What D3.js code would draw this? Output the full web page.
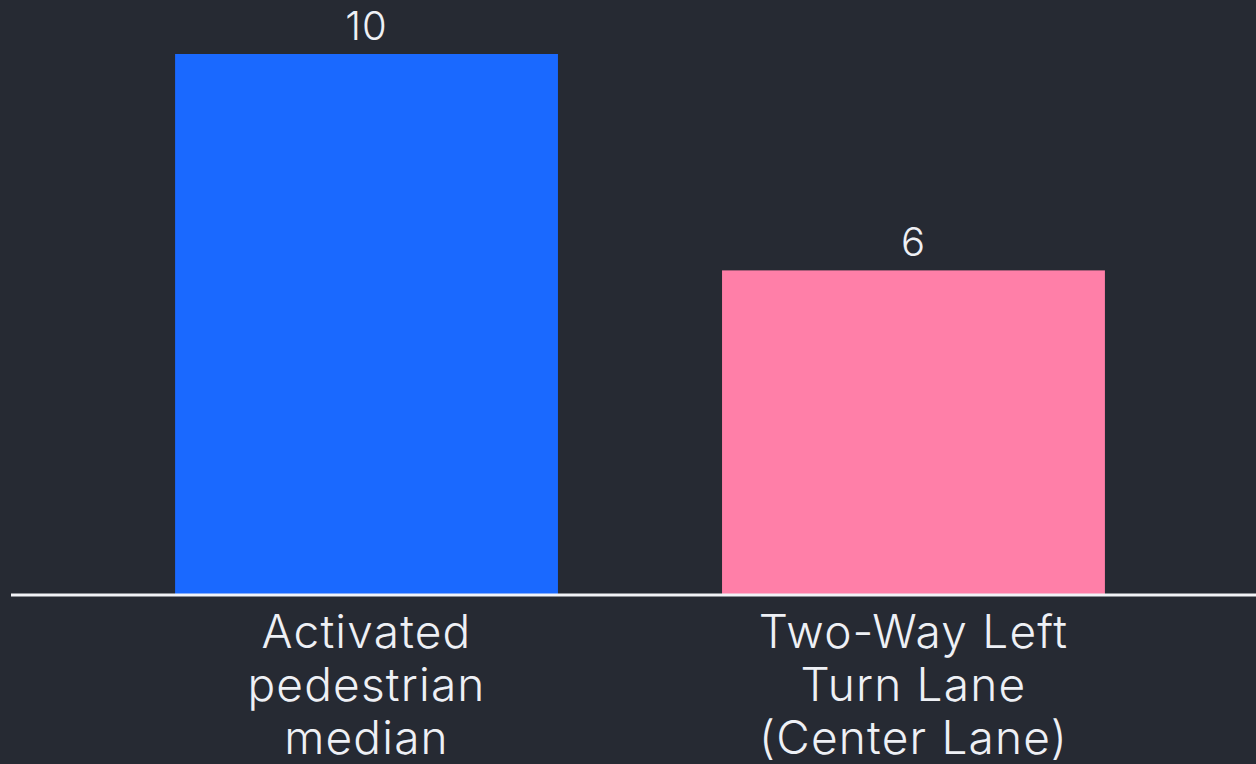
<!DOCTYPE html>
<html><head><meta charset="utf-8">
<script src="https://cdn.jsdelivr.net/npm/d3@7"></script>
<style>html,body{margin:0;padding:0;background:#262a33;}svg{display:block;}</style>
</head><body>
<svg id="chart" width="1256" height="764"></svg>
<script>
const categories = ["Activated pedestrian median", "Two-Way Left Turn Lane (Center Lane)"];
const categoryLines = [["Activated", "pedestrian", "median"], ["Two-Way Left", "Turn Lane", "(Center Lane)"]];
const values = [10, 6];
const colors = ["#1a69ff", "#ff7fa8"];

const W = 1256, H = 764;
const svg = d3.select("#chart");
svg.append("rect").attr("width", W).attr("height", H).attr("fill", "#262a33");

const baseY = 595;
const x = d3.scaleBand().domain(categories).range([11, 1269]).paddingInner(0.3).paddingOuter(0.3);
const y = d3.scaleLinear().domain([0, 10]).range([baseY, 54]);

svg.selectAll("rect.bar").data(values).enter().append("rect")
  .attr("class", "bar")
  .attr("x", (d, i) => x(categories[i]))
  .attr("width", x.bandwidth())
  .attr("y", d => y(d))
  .attr("height", d => baseY - y(d))
  .attr("fill", (d, i) => colors[i]);

svg.selectAll("text.val").data(values).enter().append("text")
  .attr("class", "val")
  .attr("x", (d, i) => x(categories[i]) + x.bandwidth() / 2)
  .attr("y", d => y(d) - 14)
  .attr("text-anchor", "middle")
  .attr("fill", "#eef0f5")
  .attr("font-family", "Inter, sans-serif")
  .attr("font-weight", 300)
  .attr("font-size", 40)
  .attr("letter-spacing", 1)
  .text(d => d);

svg.append("line").attr("x1", 11).attr("x2", 1256).attr("y1", baseY).attr("y2", baseY)
  .attr("stroke", "#f2f3f7").attr("stroke-width", 3);

categories.forEach((c, i) => {
  const t = svg.append("text")
    .attr("text-anchor", "middle")
    .attr("fill", "#eef0f5")
    .attr("font-family", "Inter, sans-serif")
    .attr("font-weight", 300)
    .attr("font-size", 46)
    .attr("letter-spacing", 1.2);
  categoryLines[i].forEach((ln, j) => {
    t.append("tspan").attr("x", x(c) + x.bandwidth() / 2).attr("y", 648 + j * 53).text(ln);
  });
});
</script>
</body></html>
